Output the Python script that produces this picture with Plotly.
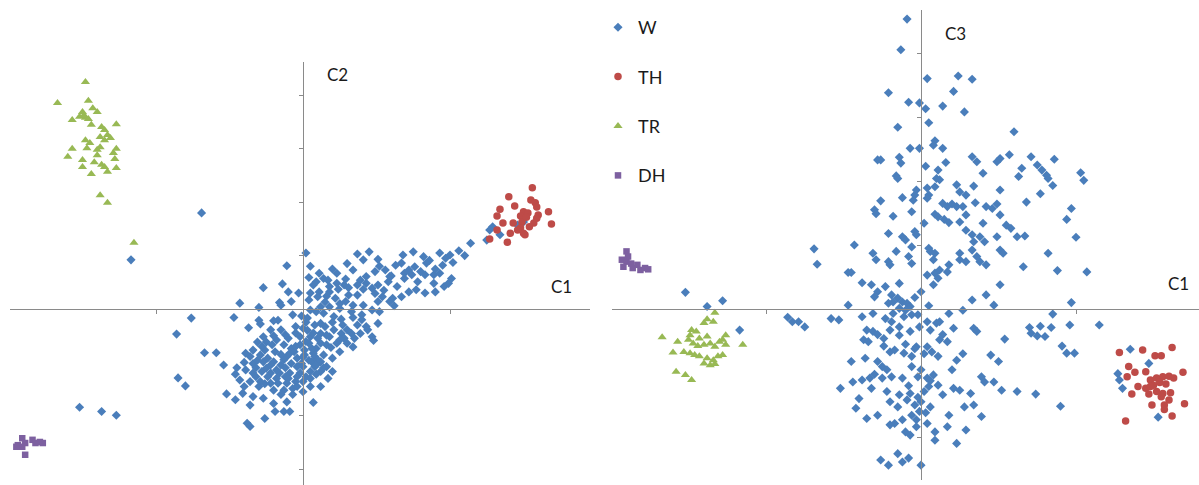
import plotly.graph_objects as go

# ---------------------------------------------------------------
# Component scores, panel A: (C1, C2)
# ---------------------------------------------------------------
W_C1_C2 = [
    (0.02, 1.05), (0.37, 1.03), (0.45, 1.07), (0.51, 0.93), (0.41, 0.92), (0.68, 1.01),
    (0.75, 1.07), (0.82, 0.98), (0.86, 0.91), (0.93, 1.05), (1.00, 1.01), (1.06, 1.09),
    (1.14, 1.23), (1.02, 0.87), (0.95, 0.82), (-0.11, 0.81), (0.11, 0.67), (0.04, 0.59),
    (0.14, 0.57), (0.23, 0.48), (0.29, 0.56), (0.34, 0.73), (0.39, 0.54), (0.43, 0.61),
    (0.49, 0.70), (0.56, 0.73), (0.63, 0.82), (0.67, 0.86), (0.72, 0.73), (0.76, 0.79),
    (0.80, 0.70), (0.83, 0.64), (0.89, 0.64), (0.93, 0.67), (1.01, 0.57), (0.74, 0.64),
    (0.69, 0.67), (-0.27, 0.40), (-0.14, 0.47), (0.07, 0.45), (0.11, 0.32), (0.18, 0.42),
    (0.24, 0.37), (0.28, 0.45), (0.37, 0.45), (0.41, 0.37), (0.47, 0.39), (0.51, 0.45),
    (0.58, 0.51), (0.64, 0.42), (0.69, 0.57), (0.77, 0.36), (0.72, 0.32), (0.90, 0.32),
    (0.96, 0.42), (0.99, 0.48), (0.49, 0.29), (0.54, 0.23), (0.61, 0.20), (0.67, 0.23),
    (0.59, 0.14), (0.62, 0.06), (-0.43, 0.11), (-0.30, 0.03), (-0.16, 0.12), (-0.08, 0.14),
    (-0.15, 0.07), (0.04, 0.17), (0.10, 0.23), (0.16, 0.24), (0.22, 0.20), (0.29, 0.14),
    (0.34, 0.07), (0.41, 0.07), (0.47, -0.02), (0.51, 0.14), (0.52, -0.05), (-0.47, -0.16),
    (-0.30, -0.21), (-0.29, -0.28), (-0.17, -0.21), (-0.07, -0.11), (-0.01, -0.13), (0.03, -0.17),
    (0.09, -0.05), (0.14, -0.08), (0.21, -0.14), (0.26, -0.19), (0.34, -0.16), (0.40, -0.11),
    (0.37, -0.30), (0.43, -0.33), (0.51, -0.27), (0.44, -0.39), (0.33, -0.46), (0.39, -0.46),
    (0.47, -0.52), (0.48, -0.59), (-0.05, -0.33), (0.00, -0.36), (0.08, -0.30), (0.15, -0.33),
    (0.21, -0.39), (0.18, -0.52), (0.12, -0.46), (0.05, -0.52), (-0.02, -0.52), (-0.10, -0.55),
    (-0.15, -0.39), (-0.22, -0.39), (-0.13, -0.67), (-0.08, -0.74), (-0.02, -0.67), (0.04, -0.64),
    (0.09, -0.74), (0.16, -0.67), (0.23, -0.64), (0.30, -0.64), (0.34, -0.71), (0.25, -0.80),
    (0.20, -0.92), (0.14, -0.86), (0.07, -0.83), (0.01, -0.86), (-0.04, -0.92), (-0.11, -0.89),
    (-0.19, -0.80), (-0.26, -0.77), (-0.29, -0.86), (-0.36, -0.89), (-0.39, -0.83), (-0.34, -1.02),
    (-0.27, -0.99), (-0.20, -0.99), (-0.15, -1.05), (-0.08, -1.02), (-0.01, -1.02), (0.06, -0.99),
    (0.12, -0.99), (0.16, -1.08), (0.20, -1.17), (0.12, -1.17), (0.05, -1.17), (-0.02, -1.20),
    (-0.09, -1.20), (-0.16, -1.20), (-0.22, -1.20), (-0.28, -1.17), (-0.34, -1.20), (-0.39, -1.14),
    (-0.46, -1.22), (-0.54, -1.05), (-0.36, -1.36), (-0.29, -1.36), (-0.22, -1.39), (-0.17, -1.39),
    (-0.11, -1.39), (-0.05, -1.36), (0.00, -1.36), (-0.20, -1.52), (-0.13, -1.52), (-0.07, -1.49),
    (0.05, -1.45), (0.12, -1.45), (0.17, -1.30), (-0.41, -1.58), (-0.52, -1.59), (-0.46, -1.70),
    (-0.34, -1.64), (-0.27, -1.67), (-0.20, -1.77), (-0.11, -1.74), (0.07, -1.75), (-0.19, -1.92),
    (-0.13, -1.92), (-0.09, -1.92), (-0.26, -2.05), (-0.38, -2.14), (-0.36, -2.20), (0.02, -0.61),
    (0.06, -0.74), (0.01, -0.77), (0.08, -0.89), (0.04, -0.96), (0.00, -1.08), (-0.04, -1.08),
    (0.08, -1.08), (-0.09, -0.83), (-0.18, -1.14), (-0.25, -1.11), (-0.32, -1.27), (-0.43, -1.33),
    (-0.04, -1.27), (-0.12, -1.27), (0.02, -1.27), (-0.21, -0.67), (-0.34, -0.77), (0.12, -0.64),
    (0.16, -0.49), (0.26, -0.46), (0.30, -0.39), (0.12, -0.27), (0.25, 0.01), (0.18, 0.04),
    (0.12, 0.04), (0.05, -0.02), (0.31, 0.26), (0.37, 0.26), (0.23, 0.67), (0.17, 0.54),
    (0.09, 0.51), (0.43, 0.48), (0.59, 0.61), (0.84, 0.86), (0.89, 0.48), (0.78, 0.51),
    (-0.76, -0.17), (-0.86, -0.47), (-0.67, -0.82), (-0.59, -0.82), (-0.85, -1.29), (-0.80, -1.44),
    (-1.52, -1.84), (-1.37, -1.92), (-1.27, -1.99), (-0.36, -1.80), (-0.69, 1.80), (-1.17, 0.92),
    (1.25, 1.29), (1.27, 1.48), (1.29, 1.54), (1.34, 1.39), (1.46, 1.57), (1.50, 1.63),
    (-0.05, -0.45), (0.03, -0.40), (-0.12, -0.48), (-0.18, -0.58), (-0.25, -0.62), (-0.06, -0.80),
    (0.10, -0.95), (-0.13, -0.95), (-0.24, -0.92), (-0.31, -0.96), (-0.40, -1.00), (-0.45, -1.10),
    (-0.24, -1.27), (-0.10, -1.30), (0.09, -1.22), (0.14, -1.10), (-0.30, -1.45), (-0.40, -1.45),
    (-0.07, -1.60), (0.00, -1.55), (0.10, -0.55), (0.20, -0.25), (0.27, -0.30), (0.33, -0.05),
    (0.25, 0.10), (0.15, 0.13), (0.05, 0.30), (0.18, 0.32), (0.31, 0.40), (0.55, 0.35),
    (0.60, 0.62), (0.52, 0.80), (0.30, 0.85), (0.20, 0.75), (0.05, 0.80), (0.83, 0.30),
    (0.90, 0.75), (0.97, 0.95), (1.10, 1.00), (-0.03, 0.30), (-0.10, 0.32), (0.35, -0.55),
    (0.28, -0.55), (0.40, -0.20), (-0.20, -0.22), (-0.37, -0.35),
    (-0.20, -0.50), (-0.28, -0.70), (-0.15, -0.85), (-0.05, -0.70), (0.00, -0.90), (0.05, -1.30),
    (-0.18, -1.30), (-0.22, -1.05), (-0.12, -1.10), (-0.32, -1.10), (-0.26, -1.40), (-0.15, -1.60),
    (-0.27, -0.52), (0.02, -0.25), (0.07, -0.45), (0.19, -0.72), (0.25, -0.58), (0.09, -1.05),
    (-0.04, -1.45), (-0.31, -0.62),
]

TH_C1_C2 = [
    (1.56, 2.27), (1.40, 2.10), (1.55, 2.04), (1.58, 1.99), (1.44, 1.93), (1.34, 1.87),
    (1.59, 1.91), (1.67, 1.82), (1.50, 1.82), (1.53, 1.80), (1.48, 1.74), (1.60, 1.76),
    (1.32, 1.74), (1.36, 1.61), (1.43, 1.61), (1.49, 1.63), (1.57, 1.61), (1.69, 1.59),
    (1.54, 1.54), (1.48, 1.52), (1.41, 1.42), (1.50, 1.42), (1.46, 1.48), (1.32, 1.48),
    (1.39, 1.25), (1.27, 1.31), (1.51, 1.39), (1.59, 1.70), (1.52, 1.72),
]

TR_C1_C2 = [
    (-1.48, 4.25), (-1.67, 3.86), (-1.46, 3.90), (-1.43, 3.76), (-1.40, 3.69), (-1.50, 3.69),
    (-1.52, 3.60), (-1.57, 3.54), (-1.48, 3.58), (-1.44, 3.45), (-1.27, 3.46), (-1.37, 3.41),
    (-1.35, 3.35), (-1.33, 3.26), (-1.31, 3.20), (-1.38, 3.22), (-1.48, 3.16), (-1.45, 3.11),
    (-1.47, 3.01), (-1.40, 2.98), (-1.38, 3.03), (-1.57, 3.00), (-1.27, 3.00), (-1.29, 2.92),
    (-1.60, 2.85), (-1.50, 2.79), (-1.42, 2.75), (-1.37, 2.70), (-1.28, 2.81), (-1.50, 2.66),
    (-1.35, 2.66), (-1.27, 2.64), (-1.33, 2.57), (-1.44, 2.53), (-1.38, 2.13), (-1.33, 1.99),
    (-1.15, 1.24), (-1.49, 3.63), (-1.46, 3.56), (-1.35, 3.16), (-1.40, 2.88),
]

DH_C1_C2 = [
    (-1.91, -2.42), (-1.94, -2.55), (-1.89, -2.51), (-1.84, -2.45), (-1.82, -2.51),
    (-1.79, -2.49), (-1.77, -2.51), (-1.89, -2.73), (-1.95, -2.58), (-1.91, -2.58),
]

# ---------------------------------------------------------------
# Component scores, panel B: (C1, C3)
# ---------------------------------------------------------------
W_C1_C3 = [
    (0.04, 3.60), (0.24, 3.64), (0.33, 3.59), (-0.21, 3.38), (0.21, 3.40), (-0.08, 3.23),
    (-0.01, 3.22), (0.03, 3.13), (0.14, 3.17), (0.28, 3.08), (-0.15, 2.84), (0.05, 2.91),
    (0.60, 2.77), (0.09, 2.63), (0.08, 2.56), (-0.07, 2.51), (-0.01, 2.51), (0.14, 2.51),
    (-0.28, 2.33), (-0.26, 2.33), (-0.14, 2.37), (-0.13, 2.28), (0.03, 2.23), (0.16, 2.29),
    (0.33, 2.38), (0.36, 2.30), (0.49, 2.30), (0.51, 2.35), (0.57, 2.41), (0.40, 2.12),
    (-0.16, 2.08), (-0.15, 2.04), (0.11, 2.17), (0.10, 2.04), (0.12, 2.02), (-0.03, 1.86),
    (0.04, 1.89), (0.09, 1.91), (-0.04, 1.78), (0.05, 1.78), (0.23, 1.94), (0.25, 1.83),
    (0.29, 1.78), (0.34, 1.92), (0.51, 1.86), (0.63, 2.07), (-0.26, 1.69), (-0.12, 1.74),
    (-0.05, 1.70), (0.04, 1.73), (0.14, 1.65), (0.17, 1.60), (0.20, 1.64), (0.23, 1.60),
    (0.27, 1.60), (0.35, 1.66), (0.42, 1.60), (0.46, 1.57), (0.49, 1.64), (0.51, 1.47),
    (-0.30, 1.55), (-0.29, 1.49), (-0.18, 1.45), (-0.06, 1.52), (0.09, 1.48), (0.11, 1.44),
    (0.15, 1.40), (0.18, 1.35), (0.25, 1.36), (0.29, 1.47), (0.40, 1.34), (0.55, 1.31),
    (0.58, 1.26), (0.62, 1.13), (-0.21, 1.18), (-0.12, 1.13), (-0.10, 1.08), (-0.04, 1.21),
    (-0.03, 1.16), (0.02, 1.34), (0.29, 1.23), (0.33, 1.16), (0.38, 1.13), (0.34, 1.05),
    (0.41, 1.05), (0.49, 1.13), (-0.43, 1.00), (-0.16, 0.90), (-0.06, 0.97), (-0.08, 0.82),
    (0.05, 0.95), (0.06, 0.90), (0.09, 0.87), (0.25, 0.87), (0.33, 0.92), (0.36, 0.82),
    (0.51, 0.92), (0.53, 0.87), (-0.31, 0.87), (-0.29, 0.77), (-0.21, 0.74), (-0.20, 0.69),
    (-0.06, 0.71), (0.08, 0.77), (0.18, 0.69), (0.25, 0.77), (0.29, 0.74), (0.38, 0.74),
    (0.42, 0.69),
    (0.71, 2.38), (0.86, 2.34), (0.65, 2.20), (0.75, 2.25), (0.78, 2.17), (0.81, 2.09),
    (0.82, 2.04), (0.85, 1.93), (1.03, 2.13), (1.05, 2.01), (0.77, 1.80), (0.68, 1.67),
    (0.97, 1.57), (0.94, 1.40), (0.67, 1.14), (1.00, 1.12), (0.82, 0.87), (0.66, 0.66),
    (0.88, 0.60), (1.07, 0.58),
    (0.97, 0.10), (0.85, -0.08), (1.15, -0.25), (0.96, -0.25), (0.70, -0.29), (0.77, -0.27),
    (0.71, -0.38), (0.75, -0.42), (0.80, -0.43), (0.84, -0.29), (0.91, -0.58), (0.94, -0.69),
    (0.99, -0.69), (0.74, -1.33), (0.90, -1.52),
    (1.35, -0.63), (1.47, -0.85), (1.27, -1.01), (1.28, -1.11), (1.30, -1.24), (1.53, -1.69),
    (-0.09, 4.53), (-0.13, 4.05),
    (-0.69, 0.94), (-0.67, 0.70), (-1.52, 0.26), (-1.28, 0.13), (-1.38, 0.04), (-1.17, -0.33),
    (-0.86, -0.13), (-0.83, -0.20), (-0.79, -0.20), (-0.75, -0.28),
    (-0.47, 0.57), (-0.45, 0.57), (0.04, 0.53), (0.09, 0.56), (0.11, 0.48), (0.12, 0.61),
    (0.17, 0.58), (0.08, 0.38), (0.00, 0.27), (-0.38, 0.41), (-0.32, 0.38), (-0.28, 0.27),
    (-0.23, 0.35), (-0.14, 0.40), (-0.30, 0.19), (-0.19, 0.22), (-0.15, 0.17), (-0.21, 0.09),
    (-0.18, 0.11), (-0.12, 0.11), (-0.09, 0.09), (-0.14, 0.01), (-0.10, -0.02), (-0.07, 0.04),
    (-0.06, -0.09), (-0.18, -0.07), (-0.31, -0.07), (-0.47, 0.06), (-0.58, -0.15), (-0.53, -0.17),
    (-0.38, -0.12), (-0.23, -0.15), (-0.19, -0.20), (-0.11, -0.12), (-0.02, -0.09), (0.04, -0.20),
    (0.12, -0.20), (0.18, -0.07), (0.27, -0.02), (0.33, 0.14), (0.42, 0.22), (0.47, 0.06),
    (0.51, 0.38), (-0.35, -0.33), (-0.31, -0.35), (-0.37, -0.48), (-0.34, -0.51), (-0.24, -0.46),
    (-0.20, -0.33), (-0.14, -0.28), (-0.14, -0.41), (-0.07, -0.35), (0.06, -0.33), (-0.01, -0.28),
    (0.12, -0.48), (0.17, -0.51), (0.21, -0.30), (0.34, -0.30), (0.36, -0.35), (0.54, -0.47),
    (0.45, -0.72), (0.50, -0.82), (0.39, -1.06), (0.41, -1.14), (0.47, -1.14), (0.52, -1.27),
    (0.62, -1.29), (-0.45, -0.82), (-0.36, -0.77), (-0.28, -0.82), (-0.25, -0.90), (-0.20, -0.67),
    (-0.17, -0.64), (-0.11, -0.69), (-0.06, -0.74), (-0.03, -0.59), (0.04, -0.59), (0.07, -0.67),
    (0.11, -0.74), (0.23, -0.80), (0.00, -0.95), (-0.02, -1.06), (0.04, -1.08), (0.08, -1.03),
    (0.11, -1.19), (0.14, -1.34), (0.05, -1.21), (0.02, -1.29), (-0.06, -0.90), (-0.52, -1.24),
    (-0.44, -1.14), (-0.38, -1.11), (-0.33, -1.08), (-0.32, -1.24), (-0.25, -1.08), (-0.19, -1.06),
    (-0.12, -1.08), (-0.22, -1.29), (-0.14, -1.34), (-0.07, -1.32), (-0.40, -1.40), (-0.42, -1.55),
    (-0.35, -1.71), (-0.28, -1.66), (-0.20, -1.45), (-0.15, -1.53), (-0.09, -1.42), (-0.04, -1.50),
    (0.00, -1.45), (0.06, -1.53), (0.21, -1.24), (0.25, -1.27), (0.32, -1.32), (0.34, -1.50),
    (0.28, -1.53), (0.39, -1.68), (0.29, -1.89), (0.23, -2.10), (0.18, -1.66), (-0.20, -1.81),
    (-0.17, -1.79), (-0.12, -1.73), (-0.06, -1.66), (-0.03, -1.73), (-0.01, -1.60), (-0.10, -1.92),
    (-0.07, -1.97), (-0.03, -1.84), (0.04, -1.79), (0.09, -1.92), (0.09, -2.05), (0.17, -1.84),
    (-0.26, -2.36), (-0.21, -2.44), (-0.15, -2.26), (-0.12, -2.39), (-0.08, -2.33), (0.00, -2.44),
    (0.02, -0.70), (-0.04, -0.62), (0.06, -1.12), (-0.02, -1.38), (0.03, -1.62), (-0.08, -1.20),
    (-0.24, -0.58), (-0.28, -0.40), (-0.10, -0.55), (0.14, -0.40), (0.20, -0.95), (0.27, -0.70),
    (0.10, -0.22), (-0.04, 0.18), (0.05, 0.05), (-0.22, -0.95), (-0.30, -1.02),
]

TH_C1_C3 = [
    (1.28, -0.68), (1.43, -0.64), (1.51, -0.73), (1.55, -0.73), (1.62, -0.60), (1.34, -0.90),
    (1.38, -0.99), (1.45, -0.98), (1.69, -0.99), (1.33, -1.06), (1.48, -1.11), (1.52, -1.08),
    (1.56, -1.06), (1.60, -1.05), (1.63, -1.08), (1.50, -1.19), (1.54, -1.15), (1.58, -1.17),
    (1.40, -1.21), (1.45, -1.24), (1.48, -1.21), (1.36, -1.33), (1.47, -1.33), (1.52, -1.29),
    (1.56, -1.32), (1.61, -1.31), (1.55, -1.37), (1.60, -1.42), (1.49, -1.50), (1.57, -1.50),
    (1.70, -1.48), (1.57, -1.57), (1.62, -1.67), (1.32, -1.75),
]

TR_C1_C3 = [
    (-1.33, -0.06), (-1.38, -0.16), (-1.34, -0.20), (-1.40, -0.22), (-1.48, -0.33), (-1.45, -0.35),
    (-1.49, -0.41), (-1.38, -0.43), (-1.43, -0.46), (-1.26, -0.41), (-1.28, -0.48), (-1.67, -0.44),
    (-1.57, -0.51), (-1.50, -0.48), (-1.47, -0.54), (-1.44, -0.58), (-1.40, -0.56), (-1.36, -0.54),
    (-1.33, -0.59), (-1.30, -0.51), (-1.26, -0.56), (-1.15, -0.56), (-1.60, -0.68), (-1.53, -0.67),
    (-1.49, -0.69), (-1.46, -0.72), (-1.43, -0.74), (-1.38, -0.77), (-1.34, -0.80), (-1.31, -0.74),
    (-1.28, -0.72), (-1.36, -0.88), (-1.33, -0.86), (-1.40, -0.85), (-1.58, -0.98), (-1.52, -1.03),
    (-1.48, -1.11),
]

DH_C1_C3 = [
    (-1.90, 0.90), (-1.93, 0.77), (-1.90, 0.74), (-1.92, 0.66), (-1.87, 0.71), (-1.86, 0.64),
    (-1.83, 0.69), (-1.81, 0.61), (-1.78, 0.64), (-1.76, 0.62), (-1.89, 0.82),
]

# ---------------------------------------------------------------
# Styling
# ---------------------------------------------------------------
FONT = "Lato"
AXIS_GREY = "#8a8a8a"
SERIES = [
    # name, marker symbol, colour, size, panel-A data, panel-B data
    ("W", "diamond", "#4a7ebb", 7, W_C1_C2, W_C1_C3),
    ("TH", "circle", "#be4b48", 7.5, TH_C1_C2, TH_C1_C3),
    ("TR", "triangle-up", "#98b954", 8, TR_C1_C2, TR_C1_C3),
    ("DH", "square", "#7d60a0", 6.5, DH_C1_C2, DH_C1_C3),
]

W_PX, H_PX = 1199, 485

# Plot areas in pixels (left, right, top, bottom) and the pixel where 0 sits
PANEL_A = dict(x0=10, x1=590, y0=62, y1=485, zx=303, zy=309, xstep=147, ystep=53.4)
PANEL_B = dict(x0=612, x1=1199, y0=10, y1=480, zx=921, zy=309, xstep=155, ystep=64)


def axis_setup(p):
    xr = [(p["x0"] - p["zx"]) / p["xstep"], (p["x1"] - p["zx"]) / p["xstep"]]
    yr = [(p["zy"] - p["y1"]) / p["ystep"], (p["zy"] - p["y0"]) / p["ystep"]]
    xdom = [p["x0"] / W_PX, p["x1"] / W_PX]
    ydom = [(H_PX - p["y1"]) / H_PX, (H_PX - p["y0"]) / H_PX]
    common = dict(showgrid=False, zeroline=False, showline=True, linecolor=AXIS_GREY,
                  linewidth=1, ticks="outside", ticklen=4, tickcolor=AXIS_GREY,
                  tickwidth=1, showticklabels=False, dtick=1, tick0=0, fixedrange=True,
                  anchor="free")
    xa = dict(common, domain=xdom, range=xr, position=(H_PX - p["zy"]) / H_PX)
    ya = dict(common, domain=ydom, range=yr, position=p["zx"] / W_PX)
    return xa, ya


fig = go.Figure()

for name, symbol, colour, size, pts_a, pts_b in SERIES:
    for pts, xa, ya, show in ((pts_a, "x", "y", True), (pts_b, "x2", "y2", False)):
        fig.add_trace(go.Scatter(
            x=[p[0] for p in pts], y=[p[1] for p in pts],
            mode="markers", name=name, legendgroup=name, showlegend=show,
            xaxis=xa, yaxis=ya,
            marker=dict(symbol=symbol, color=colour, size=size, line=dict(width=0)),
            hoverinfo="skip",
        ))

xa1, ya1 = axis_setup(PANEL_A)
xa2, ya2 = axis_setup(PANEL_B)


def label(text, px, py):
    return dict(text=text, x=px / W_PX, y=(H_PX - py) / H_PX, xref="paper", yref="paper",
                xanchor="left", yanchor="middle", showarrow=False,
                font=dict(family=FONT, size=17, color="#1a1a1a"))


fig.update_layout(
    width=W_PX, height=H_PX,
    margin=dict(l=0, r=0, t=0, b=0),
    paper_bgcolor="white", plot_bgcolor="white",
    xaxis=xa1, yaxis=ya1, xaxis2=xa2, yaxis2=ya2,
    showlegend=True,
    legend=dict(x=598 / W_PX, y=1 - 9 / H_PX, xanchor="left", yanchor="top",
                font=dict(family=FONT, size=18, color="#1a1a1a"),
                tracegroupgap=23, bgcolor="rgba(0,0,0,0)", itemwidth=30),
    annotations=[
        label("C2", 325, 74),
        label("C1", 549, 286),
        label("C3", 943, 34),
        label("C1", 1166, 284),
    ],
)

fig.write_html("out.html")
